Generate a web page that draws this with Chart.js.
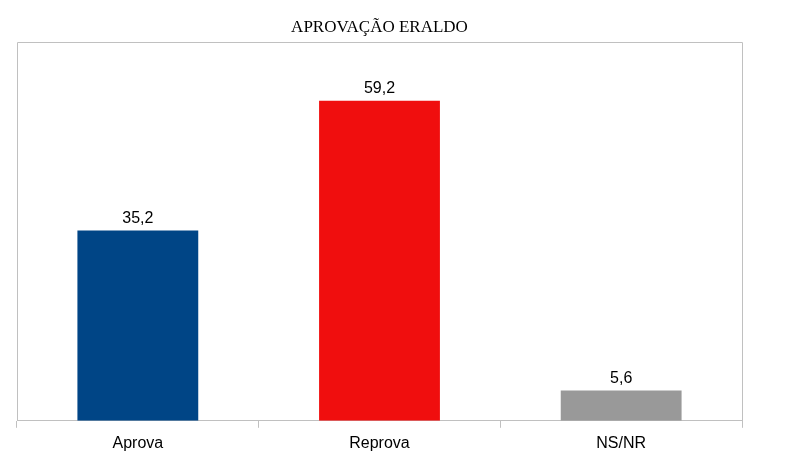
<!DOCTYPE html>
<html>
<head>
<meta charset="utf-8">
<script src="https://cdn.jsdelivr.net/npm/chart.js@4"></script>
<style>
html,body{margin:0;padding:0;background:#fff;}
#wrap{width:791px;height:472px;}
</style>
</head>
<body>
<div id="wrap"><canvas id="c"></canvas></div>
<script>
const categories = ["Aprova", "Reprova", "NS/NR"];
const values = [35.2, 59.2, 5.6];
const valueLabels = ["35,2", "59,2", "5,6"];
const barColors = ["#004586", "#f00e0e", "#999999"];
const chartTitle = "APROVAÇÃO ERALDO";

const frameColor = "#c0c0c0";

const framePlugin = {
  id: "frame",
  afterDatasetsDraw(chart) {
    const {ctx, chartArea: a} = chart;
    ctx.save();
    ctx.strokeStyle = frameColor;
    ctx.lineWidth = 1;
    ctx.beginPath();
    ctx.moveTo(Math.round(a.left) + 0.5, Math.round(a.bottom));
    ctx.lineTo(Math.round(a.left) + 0.5, Math.round(a.top) + 0.5);
    ctx.lineTo(Math.round(a.right) + 0.5, Math.round(a.top) + 0.5);
    ctx.lineTo(Math.round(a.right) + 0.5, Math.round(a.bottom));
    ctx.stroke();
    const meta = chart.getDatasetMeta(0);
    ctx.fillStyle = "#000";
    ctx.font = "16px 'Liberation Sans', Arial, sans-serif";
    ctx.textAlign = "center";
    ctx.textBaseline = "alphabetic";
    meta.data.forEach((bar, i) => {
      ctx.fillText(valueLabels[i], bar.x, bar.y - 7.5);
    });
    ctx.restore();
  }
};

new Chart(document.getElementById("c"), {
  type: "bar",
  data: {
    labels: categories,
    datasets: [{
      data: values,
      backgroundColor: barColors,
      borderWidth: 0,
      categoryPercentage: 1.0,
      barPercentage: 0.5
    }]
  },
  options: {
    responsive: true,
    maintainAspectRatio: false,
    animation: false,
    devicePixelRatio: 1,
    layout: { padding: { left: 17, right: 49, top: 0, bottom: 13 } },
    plugins: {
      legend: { display: false },
      tooltip: { enabled: false },
      title: {
        display: true,
        text: chartTitle,
        color: "#000",
        font: { family: "'Liberation Serif', 'Times New Roman', serif", size: 17, weight: "normal" },
        padding: { top: 17, bottom: 5 }
      }
    },
    scales: {
      y: {
        display: false,
        min: 0,
        max: 70
      },
      x: {
        offset: true,
        grid: {
          display: true,
          offset: true,
          drawOnChartArea: false,
          drawTicks: true,
          tickLength: 7,
          color: frameColor,
          lineWidth: 1
        },
        border: { display: true, color: frameColor, width: 1 },
        ticks: {
          color: "#000",
          padding: 6,
          font: { family: "'Liberation Sans', Arial, sans-serif", size: 16 }
        }
      }
    }
  },
  plugins: [framePlugin]
});
</script>
</body>
</html>
